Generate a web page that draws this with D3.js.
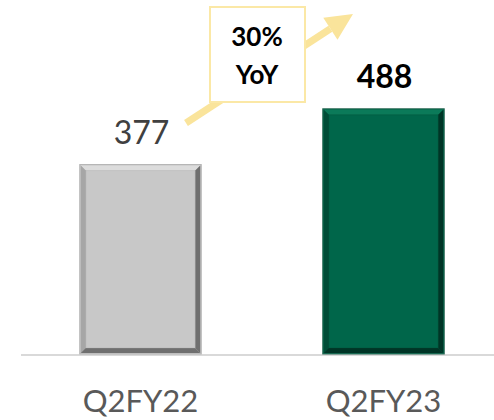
<!DOCTYPE html>
<html>
<head>
<meta charset="utf-8">
<script src="https://cdn.jsdelivr.net/npm/d3@7"></script>
<style>
  html, body { margin: 0; padding: 0; background: #ffffff; }
  svg { display: block; }
  text { font-family: Lato, "Open Sans", sans-serif; }
</style>
</head>
<body>
<svg id="chart" width="494" height="420"></svg>
<script>
// Revenue by quarter
const categories = ["Q2FY22", "Q2FY23"];
const values = [377, 488];
const valueLabels = ["377", "488"];
const growthLabel = ["30%", "YoY"];

const palette = [
  { fill: "#c8c8c8", light: "#dcdcdc", dark: "#6f6f6f", mid: "#a6a6a6", rim: "#b4b4b4" },
  { fill: "#00664a", light: "#0b7a59", dark: "#003526", mid: "#004d37", rim: "#2f6b58" }
];

const svg = d3.select("#chart");
const W = 494, H = 420;
const baseY = 354;

const x = d3.scaleBand()
  .domain(categories)
  .range([19, 505])
  .paddingInner(0.5)
  .paddingOuter(0.25);

const y = d3.scaleLinear()
  .domain([0, 600])
  .range([baseY, baseY - 600 * 0.5025]);

// baseline
svg.append("line")
  .attr("x1", 21).attr("x2", W)
  .attr("y1", baseY + 1).attr("y2", baseY + 1)
  .attr("stroke", "#d9d9d9").attr("stroke-width", 2);

// bevelled bars
const bev = 6;
const bars = svg.append("g").selectAll("g")
  .data(values)
  .join("g");

bars.each(function (v, i) {
  const g = d3.select(this);
  const c = palette[i];
  const x0 = x(categories[i]), w = x.bandwidth();
  const y0 = y(v), y1 = y(0);
  const x1 = x0 + w;
  g.append("rect")
    .attr("x", x0).attr("y", y0).attr("width", w).attr("height", y1 - y0)
    .attr("fill", c.fill).attr("stroke", c.rim).attr("stroke-width", 1);
  const pts = (a) => a.map(p => p.join(",")).join(" ");
  // top
  g.append("polygon").attr("points", pts([[x0 + 1, y0 + 1], [x1 - 1, y0 + 1], [x1 - bev, y0 + bev], [x0 + bev, y0 + bev]]))
    .attr("fill", c.light);
  // left
  g.append("polygon").attr("points", pts([[x0 + 1, y0 + 1], [x0 + bev, y0 + bev], [x0 + bev, y1 - bev], [x0 + 1, y1 - 1]]))
    .attr("fill", c.mid);
  // right
  g.append("polygon").attr("points", pts([[x1 - 1, y0 + 1], [x1 - 1, y1 - 1], [x1 - bev, y1 - bev], [x1 - bev, y0 + bev]]))
    .attr("fill", c.dark);
  // bottom
  g.append("polygon").attr("points", pts([[x0 + 1, y1 - 1], [x1 - 1, y1 - 1], [x1 - bev, y1 - bev], [x0 + bev, y1 - bev]]))
    .attr("fill", c.dark);
  // soft inner edge
  g.append("rect")
    .attr("x", x0 + bev).attr("y", y0 + bev)
    .attr("width", w - 2 * bev).attr("height", y1 - y0 - 2 * bev)
    .attr("fill", "none").attr("stroke", c.mid).attr("stroke-opacity", 0.35).attr("stroke-width", 1);
});

// value labels
svg.append("g").selectAll("text")
  .data(values)
  .join("text")
  .attr("x", (d, i) => x(categories[i]) + x.bandwidth() / 2 + 1)
  .attr("y", d => y(d) - 21)
  .attr("text-anchor", "middle")
  .attr("font-size", 32)
  .attr("font-weight", (d, i) => i === 1 ? 700 : 400)
  .attr("fill", (d, i) => i === 1 ? "#000000" : "#404040")
  .text((d, i) => valueLabels[i]);

// category labels
svg.append("g").selectAll("text")
  .data(categories)
  .join("text")
  .attr("x", d => x(d) + x.bandwidth() / 2)
  .attr("y", 412)
  .attr("text-anchor", "middle")
  .attr("font-size", 31)
  .attr("fill", "#595959")
  .text(d => d);

// growth arrow
const arrowCol = "#fae49b";
const ax0 = 186, ay0 = 123, ax1 = 353, ay1 = 14;
const ang = Math.atan2(ay1 - ay0, ax1 - ax0);
const headLen = 27, headHalf = 13;
const bx = ax1 - headLen * Math.cos(ang), by = ay1 - headLen * Math.sin(ang);
svg.append("line")
  .attr("x1", ax0).attr("y1", ay0).attr("x2", bx).attr("y2", by)
  .attr("stroke", arrowCol).attr("stroke-width", 7);
const px = -Math.sin(ang), py = Math.cos(ang);
svg.append("polygon")
  .attr("points", [[ax1, ay1], [bx + px * headHalf, by + py * headHalf], [bx - px * headHalf, by - py * headHalf]].map(p => p.join(",")).join(" "))
  .attr("fill", arrowCol);

// growth callout box
svg.append("rect")
  .attr("x", 210).attr("y", 7).attr("width", 95).attr("height", 95)
  .attr("fill", "#ffffff").attr("stroke", "#fbe8a6").attr("stroke-width", 2);
svg.append("g").selectAll("text")
  .data(growthLabel)
  .join("text")
  .attr("x", 257)
  .attr("y", (d, i) => 46 + i * 38)
  .attr("text-anchor", "middle")
  .attr("font-size", 26)
  .attr("font-weight", 700)
  .attr("fill", "#000000")
  .text(d => d);
</script>
</body>
</html>
